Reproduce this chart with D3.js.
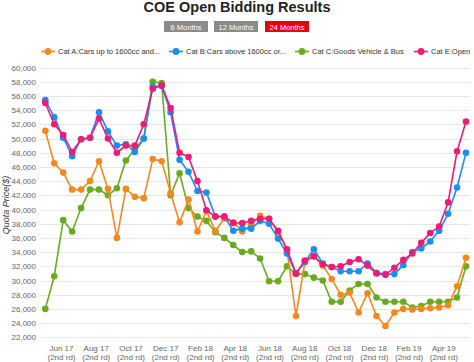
<!DOCTYPE html>
<html>
<head>
<meta charset="utf-8">
<title>COE Open Bidding Results</title>
<script src="https://d3js.org/d3.v7.min.js"></script>
<style>
  body { margin: 0; background: #fff; }
  svg { display: block; font-family: "Liberation Sans", Arial, sans-serif; }
  .grid line { stroke: #e6e6e6; stroke-width: 1; shape-rendering: crispEdges; }
  .grid path { display: none; }
  .axis path, .axis line { display: none; }
  .axis text { fill: #666; font-size: 8px; }
</style>
</head>
<body>
<script>
var w = 474, h = 362;

// x categories: 48 bidding rounds, tick labels every 2 months
var tickMonths = ["Jun 17", "Aug 17", "Oct 17", "Dec 17", "Feb 18", "Apr 18",
                  "Jun 18", "Aug 18", "Oct 18", "Dec 18", "Feb 19", "Apr 19"];
var yTicks = [22000, 24000, 26000, 28000, 30000, 32000, 34000, 36000, 38000, 40000,
              42000, 44000, 46000, 48000, 50000, 52000, 54000, 56000, 58000, 60000];

var seriesNames = ["Cat A:Cars up to 1600cc and...", "Cat B:Cars above 1600cc or...",
                   "Cat C:Goods Vehicle & Bus", "Cat E:Open"];
var seriesColors = ["#f5891f", "#1c8ef0", "#6aab1e", "#ee1c74"];

var catA = [51100, 46500, 45200, 42800, 42800, 44000, 46800, 42900, 36000, 42900, 41800, 41600,
            47100, 46800, 42300, 38200, 41400, 36900, 39800, 37000, 38700, 38200, 36900, 37900,
            39100, 38700, 36800, 34300, 25000, 32600, 33400, 32100, 30200, 28000, 28300, 25500,
            28200, 25000, 23600, 25500, 26000, 25900, 26000, 26100, 26200, 26500, 29200, 33200];
var catB = [55400, 53000, 50100, 47500, 49900, 50100, 53700, 51000, 49000, 49200, 48100, 50000,
            57300, 57400, 53700, 47000, 45300, 42600, 42400, 39000, 39000, 37000, 37300, 37300,
            38400, 38000, 35900, 33800, 31000, 32600, 34400, 32400, 31900, 31300, 31300, 31300,
            32400, 31100, 30900, 30900, 32200, 34000, 34500, 35500, 37000, 39400, 43100, 48000];
var catC = [26000, 30600, 38500, 36900, 40200, 42800, 42800, 42000, 43000, 46900, 48400, 50000,
            58000, 57800, 42000, 45100, 40200, 39000, 38400, 36800, 36000, 35000, 34000, 34100,
            33100, 29900, 29900, 32000, 30900, 30900, 30400, 30000, 27000, 27000, 28600, 29500,
            29500, 27600, 27000, 27000, 27000, 26200, 26400, 27000, 27000, 27000, 27600, 32000];
var catE = [55000, 52000, 50500, 48100, 49900, 50100, 52800, 50000, 48000, 49000, 49000, 52000,
            57000, 57500, 54300, 48000, 47400, 44000, 39900, 39000, 39000, 38100, 38100, 38400,
            38700, 38700, 37000, 34400, 31000, 32800, 33400, 32300, 31900, 32000, 32600, 33000,
            32100, 31000, 30800, 31800, 32900, 33800, 35300, 36700, 37600, 41000, 48200, 52400];

var allSeries = [catA, catB, catC, catE];

var svg = d3.select("body").append("svg")
    .attr("width", w)
    .attr("height", h);

// title
svg.append("text")
   .text("COE Open Bidding Results")
   .attr("x", w / 2)
   .attr("y", 12)
   .attr("text-anchor", "middle")
   .attr("font-size", "14.5px")
   .attr("font-weight", "bold")
   .attr("fill", "#222");

// range buttons
var buttons = [
  { label: "6 Months", x: 164, w: 44, fill: "#8a8a8a" },
  { label: "12 Months", x: 214, w: 44, fill: "#8a8a8a" },
  { label: "24 Months", x: 265, w: 44, fill: "#e60012" }
];
var btn = svg.selectAll("g.btn").data(buttons).enter().append("g").attr("class", "btn");
btn.append("rect")
   .attr("x", function(d){ return d.x; })
   .attr("y", 21)
   .attr("width", function(d){ return d.w; })
   .attr("height", 11)
   .attr("fill", function(d){ return d.fill; });
btn.append("text")
   .text(function(d){ return d.label; })
   .attr("x", function(d){ return d.x + d.w / 2; })
   .attr("y", 29.5)
   .attr("text-anchor", "middle")
   .attr("font-size", "7.5px")
   .attr("fill", "#fff");

// scales
var xScale = d3.scaleLinear().domain([0, catA.length - 1]).range([45.3, 466]);
var tickScale = d3.scalePoint().domain(tickMonths).range([61, 443.3]);
var yScale = d3.scaleLinear().domain([22000, 60000]).range([337.3, 67.5]);

// grid
svg.append("g")
   .attr("class", "grid")
   .attr("transform", "translate(40,0)")
   .call(d3.axisLeft(yScale).tickValues(yTicks).tickSize(-430).tickFormat(""));

// y axis labels
svg.append("g")
   .attr("class", "axis")
   .attr("transform", "translate(40,0)")
   .call(d3.axisLeft(yScale).tickValues(yTicks).tickSize(0).tickPadding(4)
         .tickFormat(d3.format(",")));

// y axis title
svg.append("text")
   .text("Quota Price($)")
   .attr("transform", "translate(9,205) rotate(-90)")
   .attr("text-anchor", "middle")
   .attr("font-size", "9px")
   .attr("font-style", "italic")
   .attr("fill", "#333");

// x axis labels (two lines)
var xAxisG = svg.append("g")
   .attr("class", "axis")
   .attr("transform", "translate(0,341)")
   .call(d3.axisBottom(tickScale).tickSize(0).tickPadding(0).tickFormat(""));
xAxisG.selectAll(".tick").each(function(d){
  var t = d3.select(this).append("text")
     .attr("text-anchor", "middle")
     .attr("fill", "#666")
     .attr("font-size", "8px");
  t.append("tspan").attr("x", 0).attr("y", 10).text(d);
  t.append("tspan").attr("x", 0).attr("y", 18.5).text("(2nd rd)");
});

// lines, drawn C first so the others sit on top of it
var line = d3.line()
    .x(function(d, i){ return xScale(i); })
    .y(function(d){ return yScale(d); });

[2, 0, 1, 3].forEach(function(k){
  var vals = allSeries[k];
  var g = svg.append("g");
  g.append("path")
   .datum(vals)
   .attr("d", line)
   .attr("fill", "none")
   .attr("stroke", seriesColors[k])
   .attr("stroke-width", 1.6);
  g.selectAll("circle")
   .data(vals)
   .enter()
   .append("circle")
   .attr("cx", function(d, i){ return xScale(i); })
   .attr("cy", function(d){ return yScale(d); })
   .attr("r", 3.3)
   .attr("fill", seriesColors[k]);
});

// legend
var legendX = [41, 169, 295, 414];
var leg = svg.selectAll("g.leg").data(seriesNames).enter().append("g")
   .attr("class", "leg")
   .attr("transform", function(d, i){ return "translate(" + legendX[i] + ",51.5)"; });
leg.append("line")
   .attr("x1", 0).attr("x2", 14)
   .attr("stroke", function(d, i){ return seriesColors[i]; })
   .attr("stroke-width", 1.6);
leg.append("circle")
   .attr("cx", 7).attr("r", 3.4)
   .attr("fill", function(d, i){ return seriesColors[i]; });
leg.append("text")
   .text(function(d){ return d; })
   .attr("x", 17)
   .attr("y", 2.8)
   .attr("font-size", "7.5px")
   .attr("fill", "#333");
</script>
</body>
</html>
